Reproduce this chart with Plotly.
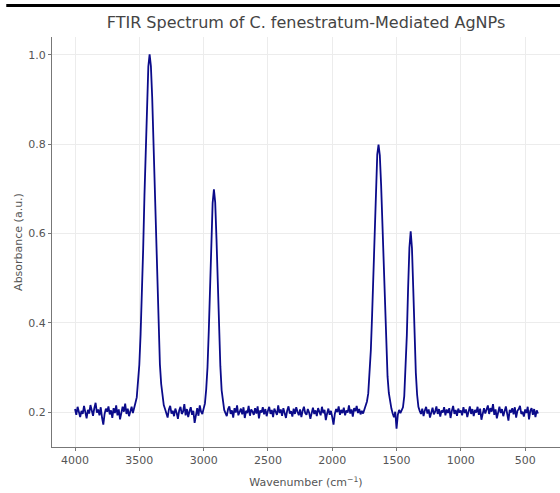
import plotly.graph_objects as go

wavenumber = [
    4000, 3990, 3980, 3970, 3960, 3950, 3940, 3930, 3920, 3910,
    3900, 3890, 3880, 3870, 3860, 3850, 3840, 3830, 3820, 3810,
    3800, 3790, 3780, 3770, 3760, 3750, 3740, 3730, 3720, 3710,
    3700, 3690, 3680, 3670, 3660, 3650, 3640, 3630, 3620, 3610,
    3600, 3590, 3580, 3570, 3560, 3550, 3540, 3530, 3520, 3510,
    3500, 3490, 3480, 3470, 3460, 3450, 3440, 3430, 3420, 3410,
    3400, 3390, 3380, 3370, 3360, 3350, 3340, 3330, 3320, 3310,
    3300, 3290, 3280, 3270, 3260, 3250, 3240, 3230, 3220, 3210,
    3200, 3190, 3180, 3170, 3160, 3150, 3140, 3130, 3120, 3110,
    3100, 3090, 3080, 3070, 3060, 3050, 3040, 3030, 3020, 3010,
    3000, 2990, 2980, 2970, 2960, 2950, 2940, 2930, 2920, 2910,
    2900, 2890, 2880, 2870, 2860, 2850, 2840, 2830, 2820, 2810,
    2800, 2790, 2780, 2770, 2760, 2750, 2740, 2730, 2720, 2710,
    2700, 2690, 2680, 2670, 2660, 2650, 2640, 2630, 2620, 2610,
    2600, 2590, 2580, 2570, 2560, 2550, 2540, 2530, 2520, 2510,
    2500, 2490, 2480, 2470, 2460, 2450, 2440, 2430, 2420, 2410,
    2400, 2390, 2380, 2370, 2360, 2350, 2340, 2330, 2320, 2310,
    2300, 2290, 2280, 2270, 2260, 2250, 2240, 2230, 2220, 2210,
    2200, 2190, 2180, 2170, 2160, 2150, 2140, 2130, 2120, 2110,
    2100, 2090, 2080, 2070, 2060, 2050, 2040, 2030, 2020, 2010,
    2000, 1990, 1980, 1970, 1960, 1950, 1940, 1930, 1920, 1910,
    1900, 1890, 1880, 1870, 1860, 1850, 1840, 1830, 1820, 1810,
    1800, 1790, 1780, 1770, 1760, 1750, 1740, 1730, 1720, 1710,
    1700, 1690, 1680, 1670, 1660, 1650, 1640, 1630, 1620, 1610,
    1600, 1590, 1580, 1570, 1560, 1550, 1540, 1530, 1520, 1510,
    1500, 1490, 1480, 1470, 1460, 1450, 1440, 1430, 1420, 1410,
    1400, 1390, 1380, 1370, 1360, 1350, 1340, 1330, 1320, 1310,
    1300, 1290, 1280, 1270, 1260, 1250, 1240, 1230, 1220, 1210,
    1200, 1190, 1180, 1170, 1160, 1150, 1140, 1130, 1120, 1110,
    1100, 1090, 1080, 1070, 1060, 1050, 1040, 1030, 1020, 1010,
    1000, 990, 980, 970, 960, 950, 940, 930, 920, 910,
    900, 890, 880, 870, 860, 850, 840, 830, 820, 810,
    800, 790, 780, 770, 760, 750, 740, 730, 720, 710,
    700, 690, 680, 670, 660, 650, 640, 630, 620, 610,
    600, 590, 580, 570, 560, 550, 540, 530, 520, 510,
    500, 490, 480, 470, 460, 450, 440, 430, 420, 410,
    400,
]

absorbance = [
    0.207, 0.194, 0.212, 0.198, 0.189, 0.203, 0.196, 0.214, 0.201, 0.186,
    0.205, 0.197, 0.216, 0.203, 0.192, 0.209, 0.221, 0.199, 0.206, 0.193,
    0.211, 0.188, 0.172, 0.196, 0.208, 0.201, 0.213, 0.195, 0.204, 0.187,
    0.209, 0.198, 0.215, 0.193, 0.206, 0.184, 0.199, 0.212, 0.201, 0.219,
    0.196, 0.208, 0.191, 0.205, 0.212, 0.198, 0.207, 0.221, 0.233, 0.266,
    0.306, 0.375, 0.458, 0.566, 0.686, 0.804, 0.906, 0.974, 1.001, 0.975,
    0.905, 0.803, 0.684, 0.567, 0.461, 0.372, 0.307, 0.263, 0.233, 0.216,
    0.207, 0.195, 0.188, 0.206, 0.214, 0.197, 0.203, 0.191, 0.208, 0.199,
    0.185, 0.204, 0.212, 0.196, 0.201, 0.218, 0.193, 0.207, 0.189, 0.202,
    0.211, 0.194, 0.203, 0.176, 0.198, 0.209, 0.192, 0.215, 0.201, 0.196,
    0.208, 0.219, 0.251, 0.300, 0.381, 0.483, 0.586, 0.668, 0.699, 0.670,
    0.588, 0.481, 0.379, 0.303, 0.249, 0.221, 0.205, 0.198, 0.191, 0.207,
    0.213, 0.196, 0.204, 0.188, 0.209, 0.199, 0.215, 0.193, 0.202, 0.208,
    0.195, 0.211, 0.187, 0.203, 0.198, 0.214, 0.192, 0.206, 0.201, 0.194,
    0.209, 0.197, 0.213, 0.186, 0.204, 0.199, 0.211, 0.195, 0.207, 0.191,
    0.203, 0.212, 0.196, 0.205, 0.189, 0.208, 0.201, 0.194, 0.215, 0.198,
    0.206, 0.192, 0.209, 0.199, 0.187, 0.204, 0.213, 0.197, 0.202, 0.190,
    0.208, 0.196, 0.211, 0.201, 0.193, 0.206, 0.189, 0.203, 0.212, 0.198,
    0.194, 0.207, 0.199, 0.185, 0.202, 0.210, 0.196, 0.204, 0.191, 0.209,
    0.201, 0.193, 0.212, 0.198, 0.205, 0.182, 0.197, 0.208, 0.194, 0.203,
    0.189, 0.172, 0.196, 0.207, 0.200, 0.213, 0.194, 0.205, 0.198, 0.210,
    0.193, 0.204, 0.199, 0.215, 0.197, 0.206, 0.190, 0.209, 0.202, 0.214,
    0.198, 0.207, 0.195, 0.203, 0.197, 0.206, 0.212, 0.224, 0.242, 0.283,
    0.338, 0.417, 0.513, 0.615, 0.708, 0.777, 0.799, 0.775, 0.709, 0.617,
    0.511, 0.415, 0.339, 0.280, 0.243, 0.221, 0.208, 0.197, 0.189, 0.201,
    0.163, 0.194, 0.205, 0.198, 0.206, 0.211, 0.236, 0.291, 0.372, 0.478,
    0.568, 0.605, 0.567, 0.476, 0.374, 0.288, 0.239, 0.212, 0.203, 0.196,
    0.208, 0.191, 0.204, 0.212, 0.197, 0.206, 0.188, 0.203, 0.210, 0.195,
    0.201, 0.213, 0.196, 0.207, 0.190, 0.204, 0.199, 0.211, 0.193, 0.206,
    0.198, 0.209, 0.187, 0.203, 0.214, 0.196, 0.205, 0.192, 0.208, 0.199,
    0.204, 0.193, 0.211, 0.198, 0.206, 0.189, 0.202, 0.213, 0.196, 0.207,
    0.191, 0.205, 0.199, 0.212, 0.194, 0.208, 0.183, 0.201, 0.209, 0.197,
    0.204, 0.215, 0.196, 0.209, 0.201, 0.218, 0.194, 0.206, 0.186, 0.203,
    0.212, 0.198, 0.207, 0.191, 0.204, 0.213, 0.197, 0.181, 0.205, 0.199,
    0.209, 0.195, 0.211, 0.188, 0.203, 0.207, 0.214, 0.196, 0.201, 0.190,
    0.206, 0.198, 0.212, 0.184, 0.203, 0.209, 0.194, 0.207, 0.189, 0.204,
    0.197,
]

x_ticks = [4000, 3500, 3000, 2500, 2000, 1500, 1000, 500]
y_ticks = [0.2, 0.4, 0.6, 0.8, 1.0]
y_tick_labels = ["0.2", "0.4", "0.6", "0.8", "1.0"]

font_family = "DejaVu Sans, sans-serif"

fig = go.Figure()
fig.add_trace(go.Scatter(
    x=wavenumber, y=absorbance, mode="lines",
    line=dict(color="#0b0b8a", width=1.8),
    showlegend=False,
))

fig.update_layout(
    width=560, height=493,
    margin=dict(l=52, r=0, t=37, b=46),
    paper_bgcolor="white", plot_bgcolor="white",
    font=dict(family=font_family, size=11, color="#555555"),
    title=dict(
        text="FTIR Spectrum of C. fenestratum-Mediated AgNPs",
        x=0.5, xref="paper", xanchor="center",
        y=1 - 22 / 493, yref="container", yanchor="middle",
        font=dict(family=font_family, size=16, color="#444444"),
    ),
    xaxis=dict(
        range=[4179, 229], tickvals=x_ticks,
        ticktext=[str(v) for v in x_ticks],
        showgrid=True, gridcolor="#ececec", gridwidth=1,
        showline=True, linecolor="#777777", linewidth=1,
        ticks="outside", ticklen=3, tickcolor="#777777",
        zeroline=False, automargin=False,
        title=dict(text="Wavenumber (cm<sup>−1</sup>)", standoff=12,
                   font=dict(size=11, color="#555555")),
        tickfont=dict(size=11, color="#555555"),
    ),
    yaxis=dict(
        range=[0.122, 1.040], tickvals=y_ticks,
        ticktext=y_tick_labels,
        showgrid=True, gridcolor="#ececec", gridwidth=1,
        showline=True, linecolor="#777777", linewidth=1,
        ticks="outside", ticklen=3, tickcolor="#777777",
        zeroline=False, automargin=False,
        title=dict(text="Absorbance (a.u.)", standoff=3,
                   font=dict(size=11, color="#555555")),
        tickfont=dict(size=11, color="#555555"),
    ),
    shapes=[dict(
        type="line", xref="paper", yref="paper",
        x0=-0.09, x1=1.0, y0=1.077, y1=1.077,
        line=dict(color="black", width=3),
    )],
)

fig.write_html(
    "out.html",
    config={"displayModeBar": False},
    post_script="document.body.style.margin='0px';",
)
